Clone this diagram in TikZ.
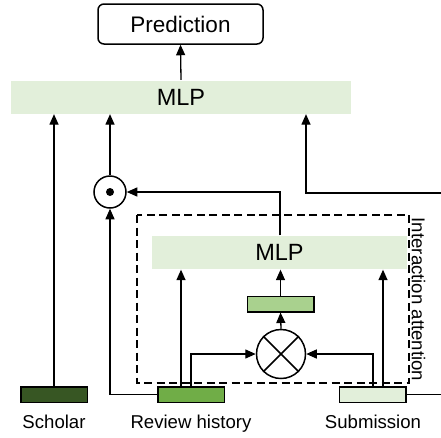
\documentclass[tikz,border=0pt]{standalone}
\usepackage{fontspec}
\setmainfont{Liberation Sans}
\usetikzlibrary{arrows.meta,calc}
\definecolor{lg}{HTML}{E2EFDA}
\definecolor{mg}{HTML}{A9D18E}
\definecolor{rg}{HTML}{70AD47}
\definecolor{dg}{HTML}{375623}
\begin{document}
\begin{tikzpicture}[x=1pt,y=-1pt, line width=1.3pt,
  arr/.style={-{Triangle[length=10.5pt,width=9pt]}},
  mlpbox/.style={fill=lg, inner sep=0, minimum height=33pt, font=\fontsize{23.5}{28}\selectfont},
  feat/.style={draw, line width=1.5pt, minimum width=66.5pt, minimum height=15.5pt, inner sep=0},
  lab/.style={font=\fontsize{18.6}{22}\selectfont, inner sep=0},
  opcirc/.style={draw, circle, line width=1.5pt, inner sep=0}]
\useasboundingbox (0,0) rectangle (441,437);

% nodes
\node[draw, rounded corners=6pt, line width=1.5pt, minimum width=165pt, minimum height=40pt,
      inner sep=0, font=\fontsize{22.5}{26}\selectfont] (pred) at (180.5,24) {Prediction};
\node[mlpbox, minimum width=340pt] (mlp1) at (181,97) {MLP};
\node[opcirc, minimum size=32pt] (odot) at (110,192) {};
\fill (odot.center) circle (4pt);
\node[mlpbox, minimum width=255pt] (mlp2) at (279.5,252.5) {MLP};
\node[feat, fill=mg] (att) at (280.5,304) {};
\node[opcirc, minimum size=49pt] (otimes) at (281,354) {};
\draw[line width=1.5pt] (otimes.north west) -- (otimes.south east)
                        (otimes.north east) -- (otimes.south west);
\node[feat, fill=dg] (scholar) at (54,394.5) {};
\node[feat, fill=rg] (review) at (191,394.5) {};
\node[feat, fill=lg] (subm) at (372.5,394.5) {};

\draw[line width=1.5pt, dash pattern=on 8pt off 4.5pt] (137,215) rectangle (409,383);
\node[lab, rotate=-90] (ialab) at (418.5,299.5) {Interaction attention};

\node[lab, anchor=base] (lsch) at (54,428) {Scholar};
\node[lab, anchor=base] (lrev) at (191,428) {Review history};
\node[lab, anchor=base] (lsub) at (373,428) {Submission};

% helper coordinates
\coordinate (r1) at ([xshift=-10pt]review.north);
\coordinate (r2) at (review.north);
\coordinate (s1) at ([xshift=0.5pt]subm.north);
\coordinate (s2) at ([xshift=10.5pt]subm.north);
\coordinate (m2out) at ([xshift=0.5pt]mlp2.north);
\coordinate (redge) at (441,193);
\coordinate (redge2) at (441,394.5);
\coordinate (m1in) at (306,193);

% connectors
\draw[arr] (mlp1.north) -- (pred.south);
\draw[arr] (scholar.north) -- (scholar.north |- mlp1.south);
\draw[arr] (odot.north) -- (odot.north |- mlp1.south);
\draw[arr] (review.west) -- (review.west -| odot.south) -- (odot.south);
\draw[arr] (r1) -- (r1 |- mlp2.south);
\draw[arr] (r2) -- (r2 |- otimes.west) -- (otimes.west);
\draw[arr] (s1) -- (s1 |- otimes.east) -- (otimes.east);
\draw[arr] (s2) -- (s2 |- mlp2.south);
\draw[arr] (otimes.north) -- (att.south);
\draw[arr] (att.north) -- (att.north |- mlp2.south);
\draw[arr] (m2out) -- (m2out |- odot.east) -- (odot.east);
\draw[arr] (redge) -- (m1in) -- (m1in |- mlp1.south);
\draw (subm.east) -- (redge2);
\end{tikzpicture}
\end{document}
